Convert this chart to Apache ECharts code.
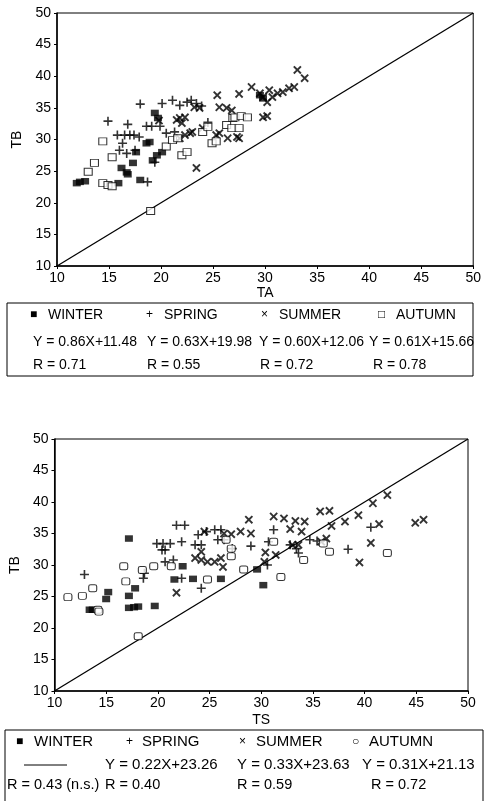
<!DOCTYPE html>
<html>
<head>
<meta charset="utf-8">
<script src="https://cdn.jsdelivr.net/npm/echarts@6/dist/echarts.min.js"></script>
<style>html,body{margin:0;padding:0;background:#fff}#c{width:484px;height:801px}</style>
</head>
<body>
<div id="c"></div>
<script>
// ---------- DATA ----------
var seasons = ['WINTER', 'SPRING', 'SUMMER', 'AUTUMN'];
var axisTicks = [10, 15, 20, 25, 30, 35, 40, 45, 50];

// Top panel: TA (x) vs TB (y)
var winterTA = [[11.9,23.1],[12.2,23.3],[12.7,23.4],[15.9,23.1],[18.0,23.6],[16.2,25.5],[16.7,24.8],[16.8,24.5],[17.3,26.3],[17.6,28.0],[18.6,29.4],[18.9,29.6],[19.2,26.7],[19.6,27.5],[20.1,28.0],[19.4,34.2],[19.7,33.4],[29.5,37.0],[29.8,36.5]];
var springTA = [[18.0,35.6],[20.1,35.7],[21.1,36.2],[21.8,35.4],[22.5,35.9],[22.9,36.2],[23.4,35.7],[23.9,35.3],[14.9,32.9],[16.8,32.4],[18.6,32.1],[19.1,32.1],[19.9,32.1],[15.8,30.7],[16.5,30.7],[17.0,30.7],[17.4,30.7],[17.9,30.4],[16.3,29.4],[16.0,28.3],[16.7,27.8],[17.5,28.3],[18.7,23.3],[19.4,26.4],[20.5,31.0],[21.3,31.2],[24.5,32.7]];
var summerTA = [[25.4,37.0],[27.5,37.2],[25.6,35.1],[26.3,35.0],[26.8,34.6],[21.5,33.1],[21.8,33.4],[22.3,33.5],[22.0,32.6],[23.2,35.1],[23.7,35.0],[21.8,30.2],[22.3,30.7],[22.8,31.0],[23.0,31.2],[24.0,31.8],[25.3,30.7],[25.6,31.0],[26.4,30.2],[27.3,30.4],[27.5,30.2],[23.4,25.5],[28.7,38.3],[29.5,37.3],[29.8,36.7],[30.4,37.8],[30.2,35.9],[30.7,36.7],[31.2,37.3],[31.7,37.5],[32.3,38.1],[32.8,38.3],[33.1,41.0],[33.8,39.7],[29.8,33.5],[30.2,33.7],[19.8,33.0]];
var autumnTA = [[14.4,29.7],[13.0,24.9],[13.6,26.3],[15.3,27.2],[14.4,23.1],[14.9,22.8],[15.3,22.6],[20.5,28.9],[21.1,29.9],[21.6,30.2],[22.0,27.5],[22.5,28.0],[24.0,31.2],[24.5,32.0],[24.9,29.4],[25.3,29.7],[26.3,32.3],[26.8,31.8],[27.5,31.8],[26.9,33.4],[27.1,33.5],[27.7,33.7],[28.3,33.5],[19.0,18.7]];
var eqTA = ['Y = 0.86X+11.48', 'Y = 0.63X+19.98', 'Y = 0.60X+12.06', 'Y = 0.61X+15.66'];
var rTA = ['R = 0.71', 'R = 0.55', 'R = 0.72', 'R = 0.78'];

// Bottom panel: TS (x) vs TB (y)
var winterTS = [[17.2,34.2],[22.4,29.8],[21.6,27.7],[23.4,27.8],[26.1,27.8],[29.6,29.3],[30.2,26.8],[17.8,26.3],[17.2,25.1],[15.2,25.7],[15.0,24.6],[13.4,22.9],[13.7,22.9],[17.2,23.2],[17.7,23.3],[18.1,23.4],[19.7,23.5]];
var springTS = [[21.8,36.3],[22.6,36.3],[23.9,34.8],[24.7,35.3],[25.5,35.6],[26.1,35.6],[25.8,34.0],[26.4,34.0],[19.9,33.4],[20.5,33.4],[21.2,33.4],[20.4,32.4],[20.7,32.4],[22.3,33.7],[23.6,33.2],[24.2,33.2],[20.7,30.5],[21.5,30.8],[27.2,32.6],[29.0,33.0],[31.2,35.6],[30.7,33.7],[33.4,32.6],[33.6,31.9],[38.4,32.5],[40.6,36.0],[12.9,28.5],[18.6,27.9],[18.7,28.7],[22.3,27.9],[24.2,26.3],[30.6,30.0],[32.8,33.2],[34.7,34.0],[35.4,33.8]];
var summerTS = [[28.8,37.2],[31.2,37.7],[32.2,37.4],[33.3,37.0],[34.2,36.9],[35.7,38.5],[36.6,38.6],[32.8,35.7],[33.9,35.3],[40.8,39.8],[42.2,41.1],[39.4,37.9],[38.1,36.9],[36.8,36.2],[41.4,36.5],[44.9,36.7],[45.7,37.2],[40.6,33.5],[39.5,30.4],[36.3,34.2],[35.8,33.7],[33.0,33.2],[33.6,33.2],[30.4,32.0],[31.4,31.6],[30.3,30.5],[26.4,35.0],[27.1,34.9],[28.0,35.3],[29.0,35.0],[24.5,35.3],[24.2,32.1],[23.6,31.1],[24.2,30.8],[24.8,30.5],[25.5,30.5],[26.1,31.1],[26.3,29.7],[21.8,25.6]];
var autumnTS = [[16.7,29.8],[11.3,24.9],[12.7,25.1],[13.7,26.3],[14.2,22.9],[14.3,22.6],[16.9,27.4],[18.5,29.2],[19.6,29.8],[21.3,29.8],[24.8,27.7],[27.1,32.6],[27.1,31.4],[26.6,34.0],[28.3,29.3],[31.2,33.7],[31.9,28.1],[34.1,30.8],[36.0,33.4],[36.6,32.1],[42.2,31.9],[18.1,18.7]];
var eqTS = ['', 'Y = 0.22X+23.26', 'Y = 0.33X+23.63', 'Y = 0.31X+21.13'];
var rTS = ['R = 0.43 (n.s.)', 'R = 0.40', 'R = 0.59', 'R = 0.72'];

var identityLine = [[10, 10], [50, 50]];

// ---------- STYLE ----------
var FONT = 'Liberation Sans, Arial, sans-serif';
var PLUS = 'path://M4.1,0H5.9V4.1H10V5.9H5.9V10H4.1V5.9H0V4.1H4.1Z';
var CROSS = 'path://M0,1.6L1.6,0L5,3.4L8.4,0L10,1.6L6.6,5L10,8.4L8.4,10L5,6.6L1.6,10L0,8.4L3.4,5Z';

function axisX(gi, name, gap) {
  return {
    gridIndex: gi, type: 'value', min: 10, max: 50, interval: 5,
    name: name, nameLocation: 'middle', nameGap: gap,
    nameTextStyle: {color: '#000', fontSize: 14, fontFamily: FONT},
    axisLine: {show: true, lineStyle: {color: '#000', width: 1.5}},
    axisTick: {show: true, length: 3, lineStyle: {color: '#000'}},
    axisLabel: {color: '#000', fontSize: 14, fontFamily: FONT, margin: 5,
      formatter: function (v) { return axisTicks.indexOf(v) >= 0 ? String(v) : ''; }},
    splitLine: {show: false}
  };
}
function axisY(gi, name, gap) {
  var a = axisX(gi, name, gap);
  a.nameRotate = 90;
  a.axisLabel.margin = 6;
  return a;
}
function scatter(gi, data, sym, size, style) {
  return {
    type: 'scatter', xAxisIndex: gi, yAxisIndex: gi, data: data,
    symbol: sym, symbolSize: size, itemStyle: style, silent: true, animation: false
  };
}
function seriesFor(gi, w, sp, su, au, autSym) {
  return [
    {type: 'line', xAxisIndex: gi, yAxisIndex: gi, data: identityLine, symbol: 'none',
     lineStyle: {color: '#000', width: 1.3}, silent: true, animation: false, z: 1},
    scatter(gi, w, 'rect', [8, 6.5], {color: '#000'}),
    scatter(gi, sp, PLUS, 9, {color: '#000'}),
    scatter(gi, su, CROSS, 8.5, {color: '#000'}),
    scatter(gi, au, autSym, [8, 7], {color: '#fff', borderColor: '#000', borderWidth: 1})
  ];
}

// ---------- LEGEND BOXES (graphic) ----------
function txt(x, y, s, size) {
  return {type: 'text', x: x, y: y, silent: true,
    style: {text: s, fill: '#000', font: (size || 14) + 'px ' + FONT, textVerticalAlign: 'middle'}};
}
var graphics = [];
// top box
graphics.push({type: 'rect', shape: {x: 7, y: 303, width: 466, height: 73}, style: {fill: 'none', stroke: '#000', lineWidth: 1}});
var topSymX = [30, 146, 261, 378], topNameX = [48, 164, 279, 396];
var topSym = ['■', '+', '×', '□'];
var topEqX = [33, 147, 259, 369], topRX = [33, 147, 260, 373];
for (var i = 0; i < 4; i++) {
  graphics.push(txt(topSymX[i], 315, topSym[i], 12));
  graphics.push(txt(topNameX[i], 315, seasons[i], 14));
  graphics.push(txt(topEqX[i], 342, eqTA[i], 14));
  graphics.push(txt(topRX[i], 365, rTA[i], 14));
}
// bottom box
graphics.push({type: 'rect', shape: {x: 5, y: 730, width: 478, height: 75}, style: {fill: 'none', stroke: '#000', lineWidth: 1}});
var botSymX = [16, 126, 239, 352], botNameX = [34, 142, 256, 369];
var botSym = ['■', '+', '×', '○'];
var botEqX = [0, 105, 237, 362], botRX = [7, 105, 237, 371];
for (var j = 0; j < 4; j++) {
  graphics.push(txt(botSymX[j], 742, botSym[j], 12));
  graphics.push(txt(botNameX[j], 742, seasons[j], 15));
  if (eqTS[j]) graphics.push(txt(botEqX[j], 765, eqTS[j], 15));
  graphics.push(txt(botRX[j], 785, rTS[j], 14.5));
}
graphics.push({type: 'line', shape: {x1: 24, y1: 765, x2: 67, y2: 765}, style: {stroke: '#000', lineWidth: 1}});

// ---------- CHART ----------
var chart = echarts.init(document.getElementById('c'), null, {renderer: 'canvas'});
chart.setOption({
  backgroundColor: '#fff',
  animation: false,
  grid: [
    {left: 57, top: 13, width: 417, height: 253, show: true, borderColor: '#000', borderWidth: 1, backgroundColor: 'transparent'},
    {left: 50, top: 439, width: 418, height: 252, show: true, borderColor: '#000', borderWidth: 1, backgroundColor: 'transparent'}
  ],
  xAxis: [axisX(0, 'TA', 19), axisX(1, 'TS', 22)],
  yAxis: [axisY(0, 'TB', 30), axisY(1, 'TB', 28)],
  series: seriesFor(0, winterTA, springTA, summerTA, autumnTA, 'rect')
    .concat(seriesFor(1, winterTS, springTS, summerTS, autumnTS, 'roundRect')),
  graphic: graphics
});
</script>
</body>
</html>
